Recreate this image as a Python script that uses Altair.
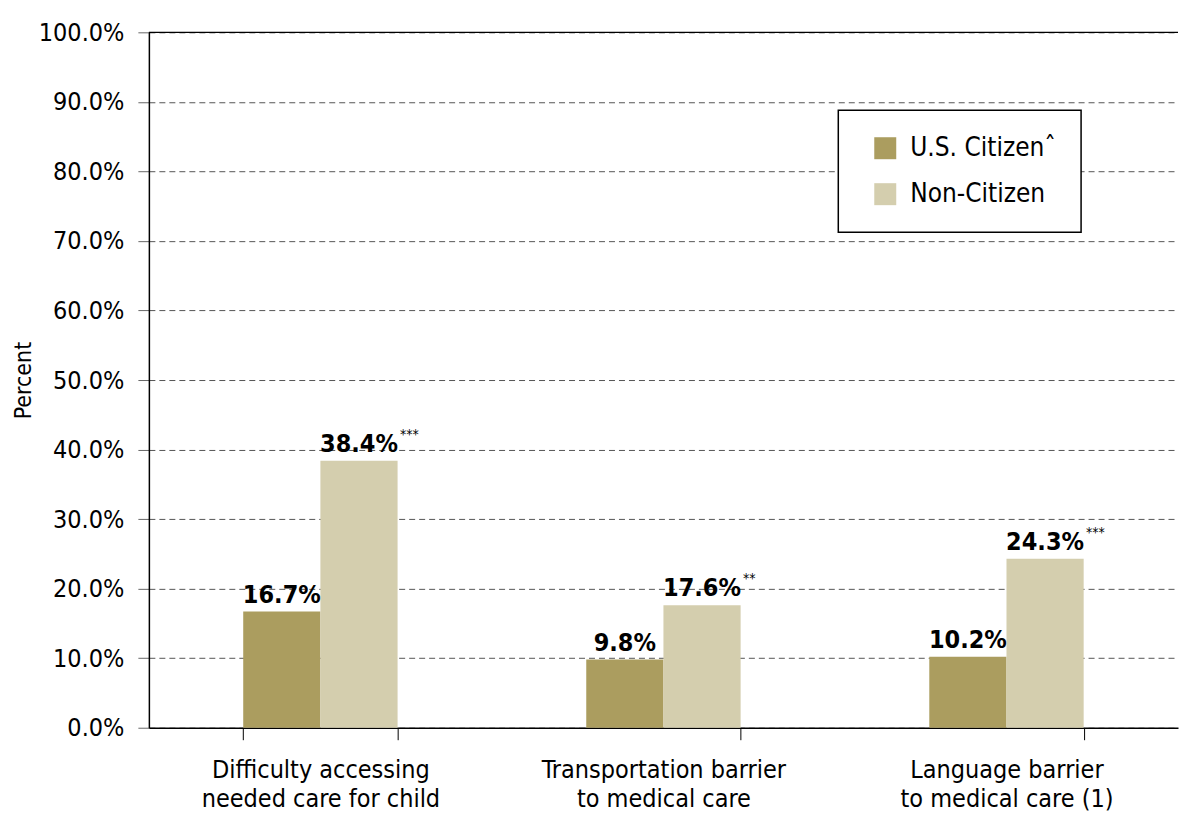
import altair as alt
import pandas as pd

categories = [
    "Difficulty accessing\nneeded care for child",
    "Transportation barrier\nto medical care",
    "Language barrier\nto medical care (1)",
]
groups = ["U.S. Citizenˆ", "Non-Citizen"]
us_values = [16.7, 9.8, 10.2]
non_values = [38.4, 17.6, 24.3]
us_stars = ["", "", ""]
non_stars = ["***", "**", "***"]
colors = ["#AB9D5F", "#D4CEAE"]

rows = []
for i, c in enumerate(categories):
    rows.append({"category": c, "group": groups[0], "value": us_values[i], "stars": us_stars[i]})
    rows.append({"category": c, "group": groups[1], "value": non_values[i], "stars": non_stars[i]})
df = pd.DataFrame(rows)

FONT = "DejaVu Sans Condensed, DejaVu Sans, sans-serif"

x_enc = alt.X(
    "category:N",
    sort=categories,
    title=None,
    scale=alt.Scale(paddingInner=0.55, paddingOuter=0.275),
    axis=alt.Axis(
        labelAngle=0,
        labelExpr="split(datum.label, '\\n')",
        labelFontSize=25,
        labelColor="black",
        labelPadding=18,
        labelLineHeight=29,
        labelLimit=0,
        labelFont=FONT,
        tickBand="extent",
        tickSize=12,
        tickColor="black",
        domainColor="black",
        domainWidth=1.5,
        grid=False,
    ),
)
xo_enc = alt.XOffset("group:N", sort=groups)
y_enc = alt.Y(
    "value:Q",
    scale=alt.Scale(domain=[0, 100]),
    axis=alt.Axis(
        values=list(range(0, 101, 10)),
        labelExpr="format(datum.value, '.1f') + '%'",
        labelFontSize=25,
        labelColor="black",
        labelFont=FONT,
        labelPadding=14,
        tickSize=11,
        tickColor="#666666",
        domainColor="black",
        domainWidth=1.5,
        grid=True,
        gridColor="#555555",
        gridDash=[6, 4],
        gridWidth=1,
        title="Percent",
        titleFont=FONT,
        titleFontSize=23,
        titleFontWeight="normal",
        titleColor="black",
        titlePadding=3,
    ),
)

base = alt.Chart(df).encode(x=x_enc, xOffset=xo_enc, y=y_enc)

bars = base.mark_bar().encode(
    color=alt.Color(
        "group:N",
        sort=groups,
        scale=alt.Scale(domain=groups, range=colors),
        legend=alt.Legend(
            title=None,
            orient="none",
            legendX=690,
            legendY=78,
            symbolType="square",
            symbolSize=484,
            symbolStrokeWidth=0,
            symbolOffset=9,
            labelFontSize=26,
            labelFont=FONT,
            labelColor="black",
            labelOffset=12,
            labelLimit=0,
            rowPadding=20,
            padding=25,
            strokeColor="black",
            fillColor="white",
        ),
    )
)

labels = base.mark_text(
    baseline="alphabetic", dy=-9, fontSize=25, fontWeight="bold", font=FONT, color="black"
).transform_calculate(label="format(datum.value, '.1f') + '%'").encode(text="label:N")

stars = base.mark_text(
    baseline="alphabetic", align="left", dx=41, dy=-22, fontSize=14, font=FONT, color="black"
).encode(text="stars:N")

top = alt.Chart(pd.DataFrame({"v": [100]})).mark_rule(color="black", strokeWidth=1.2).encode(y="v:Q")

chart = (
    alt.layer(bars, labels, stars, top)
    .properties(width=1030, height=696, padding={"left": 4, "top": 12, "right": 0, "bottom": 0})
    .configure_view(stroke=None)
    .configure_legend(strokeWidth=1.5)
)

chart.save("out.html", embed_options={"renderer": "svg", "actions": False})
